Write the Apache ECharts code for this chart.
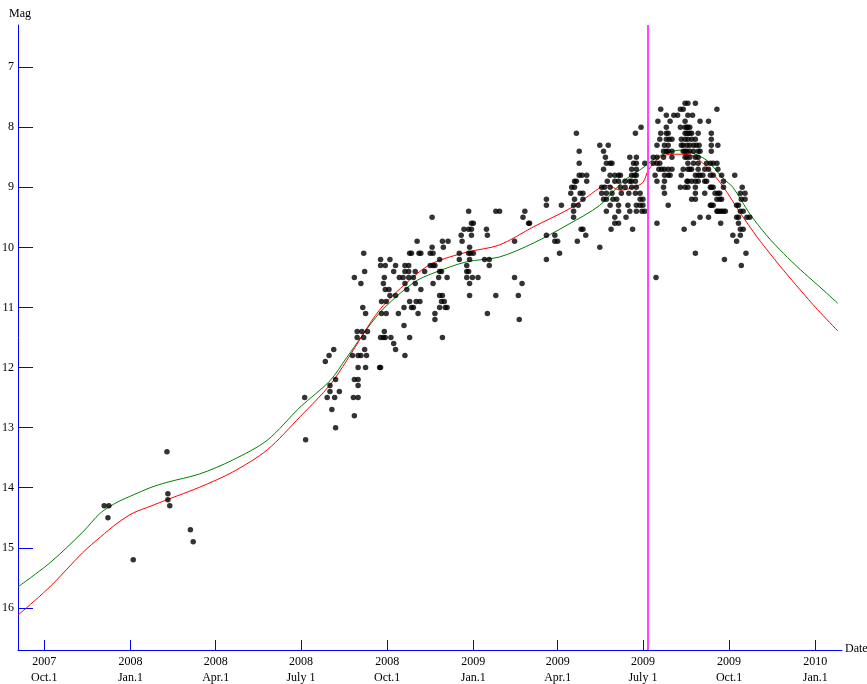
<!DOCTYPE html>
<html>
<head>
<meta charset="utf-8">
<title>Light curve</title>
<script src="https://cdn.jsdelivr.net/npm/echarts@6/dist/echarts.min.js"></script>
<style>
  html, body { margin: 0; padding: 0; background: #ffffff; }
  #chart { width: 867px; height: 684px; }
</style>
</head>
<body>
<div id="chart"></div>
<script>
// Time is counted in days from 2007 Oct. 1; brightness in magnitudes.
const quarterDays  = [0, 92, 183, 274, 366, 458, 548, 639, 731, 823];
const quarterYears = ['2007', '2008', '2008', '2008', '2008', '2009', '2009', '2009', '2009', '2010'];
const quarterNames = ['Oct.1', 'Jan.1', 'Apr.1', 'July 1', 'Oct.1', 'Jan.1', 'Apr.1', 'July 1', 'Oct.1', 'Jan.1'];
const magTicks = [7, 8, 9, 10, 11, 12, 13, 14, 15, 16];
const perihelionDay = 644;

// Visual magnitude estimates [day, mag]
const observations = [
  [64,14.3],[69,14.3],[68,14.5],[95,15.2],[131,13.4],[132,14.1],[132,14.2],[134,14.3],[156,14.7],[159,14.9],
  [278,12.5],[279,13.2],
  [300,11.9],[302,12.5],[304,11.8],[305,12.3],[305,12.4],[307,12.7],[309,11.7],[310,12.5],[311,12.2],[311,13.0],[315,12.4],
  [329,11.8],[330,12.5],[331,10.5],[331,12.2],[331,12.8],[334,11.4],[334,11.5],[335,11.8],[335,12.0],[335,12.2],[335,12.3],
  [335,12.5],[338,10.6],[338,11.8],[339,11.4],[340,11.0],[341,10.1],[341,11.5],[342,10.4],[342,11.7],[343,11.1],[343,12.0],
  [344,11.8],[345,11.4],
  [358,12.0],[359,12.0],[359,10.2],[359,10.3],[359,11.5],[360,10.9],[360,11.1],[362,10.6],[362,11.5],[363,10.5],[363,11.4],
  [364,10.3],[364,10.7],[364,11.5],[365,10.9],[365,11.1],[368,10.7],[369,10.2],[369,10.8],[370,11.5],[373,10.4],[373,11.6],
  [375,10.3],[375,10.8],[375,11.7],[378,11.1],[379,10.5],[385,11.8],
  [453,9.4],[482,9.4],[486,9.4],[513,9.4],[414,9.5],[511,9.5],[456,9.6],[458,9.6],[517,9.6],[518,9.6],
  [448,9.7],[453,9.7],[456,9.7],[472,9.7],[445,9.8],[456,9.8],[473,9.8],
  [398,9.9],[425,9.9],[431,9.9],[446,9.9],[502,9.9],[414,10.0],[426,10.0],[454,10.0],
  [390,10.1],[392,10.1],[400,10.1],[402,10.1],[412,10.1],[415,10.1],[443,10.1],[453,10.1],[455,10.1],[458,10.1],
  [422,10.2],[443,10.2],[454,10.2],[470,10.2],[475,10.2],
  [385,10.3],[389,10.3],[412,10.3],[415,10.3],[417,10.3],[451,10.3],[475,10.3],
  [385,10.4],[389,10.4],[396,10.4],[406,10.4],[422,10.4],[424,10.4],[451,10.4],[453,10.4],
  [383,10.5],[389,10.5],[394,10.5],[421,10.5],[430,10.5],[451,10.5],[457,10.5],[463,10.5],[502,10.5],
  [385,10.6],[396,10.6],[415,10.6],[454,10.6],[510,10.6],[387,10.7],[402,10.7],
  [422,10.8],[425,10.8],[454,10.8],[482,10.8],[506,10.8],
  [390,10.9],[397,10.9],[401,10.9],[424,10.9],[427,10.9],
  [384,11.0],[392,11.0],[394,11.0],[422,11.0],[428,11.0],[430,11.0],
  [399,11.1],[417,11.1],[473,11.1],[417,11.2],[507,11.2],[384,11.3],[390,11.5],[425,11.5],
  [637,8.0],[568,8.1],[631,8.1],[593,8.3],[602,8.3],[571,8.4],[597,8.4],[599,8.5],[625,8.5],[632,8.5],
  [571,8.6],[600,8.6],[604,8.6],[606,8.6],[629,8.6],[632,8.6],[641,8.6],[597,8.7],[627,8.7],[632,8.7],
  [571,8.8],[574,8.8],[579,8.8],[604,8.8],[609,8.8],[613,8.8],[615,8.8],[627,8.8],[630,8.8],[632,8.8],
  [566,8.9],[568,8.9],[579,8.9],[601,8.9],[609,8.9],[613,8.9],[620,8.9],[625,8.9],[627,8.9],[631,8.9],
  [563,9.0],[566,9.0],[595,9.0],[598,9.0],[604,9.0],[615,9.0],[620,9.0],[627,9.0],[632,9.0],
  [562,9.1],[572,9.1],[575,9.1],[595,9.1],[600,9.1],[606,9.1],[616,9.1],[624,9.1],[631,9.1],[636,9.1],
  [536,9.2],[566,9.2],[575,9.2],[597,9.2],[600,9.2],[607,9.2],[611,9.2],[636,9.2],[639,9.2],
  [536,9.3],[552,9.3],[565,9.3],[570,9.3],[604,9.3],[613,9.3],[623,9.3],[632,9.3],[636,9.3],[639,9.3],
  [565,9.4],[600,9.4],[613,9.4],[625,9.4],[632,9.4],[638,9.4],[641,9.4],
  [565,9.5],[609,9.5],[621,9.5],[609,9.6],[613,9.6],[573,9.7],[575,9.7],[605,9.7],[628,9.7],
  [536,9.8],[545,9.8],[578,9.8],[545,9.9],[548,9.9],[569,9.9],[593,10.0],[550,10.1],[536,10.2],
  [684,7.6],[687,7.6],[695,7.6],[658,7.7],[679,7.7],[682,7.7],[718,7.7],
  [664,7.8],[672,7.8],[676,7.8],[687,7.8],[692,7.8],[655,7.9],[668,7.9],[684,7.9],[700,7.9],[709,7.9],
  [664,8.0],[679,8.0],[684,8.0],[686,8.0],[687,8.0],[689,8.0],
  [658,8.1],[664,8.1],[666,8.1],[684,8.1],[686,8.1],[687,8.1],[689,8.1],[691,8.1],[698,8.1],[712,8.1],
  [657,8.2],[664,8.2],[667,8.2],[670,8.2],[680,8.2],[684,8.2],[687,8.2],[691,8.2],[695,8.2],[712,8.2],
  [654,8.3],[662,8.3],[666,8.3],[680,8.3],[682,8.3],[686,8.3],[689,8.3],[693,8.3],[696,8.3],[699,8.3],[712,8.3],[719,8.3],
  [661,8.4],[664,8.4],[666,8.4],[670,8.4],[682,8.4],[684,8.4],[686,8.4],[689,8.4],[693,8.4],[698,8.4],[700,8.4],[712,8.4],
  [650,8.5],[654,8.5],[661,8.5],[670,8.5],[684,8.5],[686,8.5],[689,8.5],[695,8.5],[698,8.5],
  [650,8.6],[654,8.6],[657,8.6],[687,8.6],[693,8.6],[698,8.6],[707,8.6],[711,8.6],[714,8.6],[718,8.6],
  [656,8.7],[659,8.7],[662,8.7],[666,8.7],[670,8.7],[682,8.7],[687,8.7],[689,8.7],[691,8.7],[698,8.7],[705,8.7],[709,8.7],[719,8.7],
  [652,8.8],[662,8.8],[666,8.8],[668,8.8],[680,8.8],[695,8.8],[698,8.8],[700,8.8],[703,8.8],[711,8.8],[714,8.8],[723,8.8],[737,8.8],
  [654,8.9],[662,8.9],[686,8.9],[687,8.9],[691,8.9],[695,8.9],[698,8.9],[705,8.9],[707,8.9],[725,8.9],
  [661,9.0],[679,9.0],[684,9.0],[687,9.0],[695,9.0],[711,9.0],[712,9.0],[714,9.0],[725,9.0],[745,9.0],
  [662,9.1],[695,9.1],[705,9.1],[716,9.1],[719,9.1],[721,9.1],[743,9.1],[748,9.1],
  [691,9.2],[695,9.2],[718,9.2],[721,9.2],[723,9.2],[744,9.2],[748,9.2],
  [666,9.3],[711,9.3],[712,9.3],[714,9.3],[739,9.3],[741,9.3],
  [718,9.4],[719,9.4],[721,9.4],[723,9.4],[725,9.4],[727,9.4],[743,9.4],[746,9.4],
  [700,9.5],[709,9.5],[739,9.5],[741,9.5],[750,9.5],[753,9.5],
  [654,9.6],[693,9.6],[722,9.6],[741,9.6],[683,9.7],[743,9.7],[746,9.7],
  [735,9.8],[743,9.8],[739,9.9],[695,10.1],[749,10.1],[726,10.2],[744,10.3],[653,10.5]
];

// Two magnitude-law fits [day, mag]
const fitRed = [
  [-28,16.12],[6,15.65],[41,15.08],[60,14.82],[78,14.59],[95,14.42],[113,14.31],[131,14.20],[166,13.99],
  [201,13.74],[238,13.37],[273,12.82],
  [305,12.29],[323,11.88],[358,11.04],[394,10.49],[415,10.26],[451,10.08],[486,9.96],[522,9.66],[558,9.38],
  [575,9.21],[593,9.01],[601,8.97],[615,9.05],[629,9.00],[639,8.92],[645,8.71],[657,8.50],[671,8.45],
  [689,8.46],[707,8.66],[725,9.00],[743,9.43],[761,9.83],[775,10.11],[789,10.38],[807,10.71],[825,11.03],[847,11.39]
];
const fitGreen = [
  [-28,15.65],[6,15.25],[41,14.74],[60,14.42],[78,14.24],[95,14.12],[113,14.00],[131,13.91],[166,13.77],
  [201,13.54],[238,13.21],[273,12.66],
  [305,12.22],[323,11.83],[358,11.09],[394,10.59],[415,10.43],[451,10.24],[486,10.16],[522,9.93],[558,9.63],
  [593,9.30],[618,8.90],[636,8.71],[654,8.50],[671,8.40],[682,8.38],[689,8.41],[707,8.55],[725,8.86],
  [735,9.00],[753,9.44],[771,9.80],[789,10.10],[807,10.37],[825,10.62],[847,10.93]
];

const FONT = '"Liberation Serif", "DejaVu Serif", serif';
const AXIS_BLUE = '#0000ff';

const chart = echarts.init(document.getElementById('chart'), null, { renderer: 'canvas' });
chart.setOption({
  animation: false,
  backgroundColor: '#ffffff',
  grid: { left: 18, top: 25, width: 824, height: 625, containLabel: false, outerBoundsMode: 'none' },
  xAxis: {
    type: 'value',
    min: -28,
    max: 851.5,
    axisLine: { onZero: false, lineStyle: { color: AXIS_BLUE, width: 1 } },
    axisTick: { inside: true, length: 10, customValues: quarterDays, lineStyle: { color: AXIS_BLUE, width: 1 } },
    axisLabel: {
      customValues: quarterDays,
      formatter: function (v) {
        const i = quarterDays.indexOf(v);
        return quarterYears[i] + '\n' + quarterNames[i];
      },
      color: '#000000', fontFamily: FONT, fontSize: 12, lineHeight: 16, margin: 4
    },
    splitLine: { show: false }
  },
  yAxis: {
    type: 'value',
    inverse: true,
    min: 6.3,
    max: 16.7,
    axisLine: { onZero: false, lineStyle: { color: AXIS_BLUE, width: 1 } },
    axisTick: { inside: true, length: 15, customValues: magTicks, lineStyle: { color: AXIS_BLUE, width: 1 } },
    axisLabel: { customValues: magTicks, color: '#000000', fontFamily: FONT, fontSize: 12, margin: 4 },
    splitLine: { show: false }
  },
  graphic: [
    { type: 'text', left: 9, top: 8, style: { text: 'Mag', fill: '#000000', font: '12px ' + FONT } },
    { type: 'text', left: 845, top: 643, style: { text: 'Date', fill: '#000000', font: '12px ' + FONT } }
  ],
  series: [
    {
      name: 'fit2', type: 'line', data: fitGreen, showSymbol: false, smooth: 0.3,
      lineStyle: { color: '#008000', width: 1 }, z: 2, silent: true
    },
    {
      name: 'fit1', type: 'line', data: fitRed, showSymbol: false, smooth: 0.3,
      lineStyle: { color: '#ff0000', width: 1 }, z: 2, silent: true,
      markLine: {
        silent: true, symbol: ['none', 'none'], label: { show: false },
        lineStyle: { color: '#ff44ff', width: 2, type: 'solid' },
        data: [{ xAxis: perihelionDay }]
      }
    },
    {
      name: 'obs', type: 'scatter', data: observations, symbol: 'circle', symbolSize: 5.5,
      itemStyle: { color: '#000000' }, z: 3, silent: true
    }
  ]
});
</script>
</body>
</html>
